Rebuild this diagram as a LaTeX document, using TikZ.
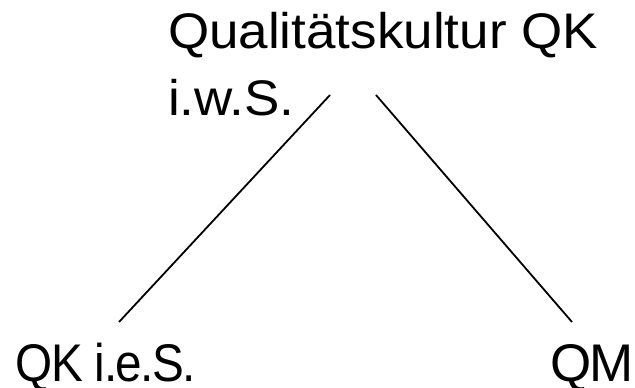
\documentclass[tikz,border=0pt]{standalone}
\usepackage{fontspec}
\setmainfont{Liberation Sans}
\begin{document}
\begin{tikzpicture}[x=1pt,y=-1pt,
  lbl/.style={inner sep=0pt,outer sep=0pt,anchor=base west},
  conn/.style={line width=1.8pt,black}]
\useasboundingbox (0,0) rectangle (635,388);
\node[lbl,align=left,font=\fontsize{50}{67}\selectfont\addfontfeatures{FakeStretch=1.06}] (top) at (168,115) {Qualitätskultur QK\\i.w.S.};
\node[lbl,font=\fontsize{53}{60}\selectfont\addfontfeatures{FakeStretch=0.9,LetterSpace=-3}] (left) at (16,381) {QK i.e.S.};
\node[lbl,font=\fontsize{53}{60}\selectfont\addfontfeatures{LetterSpace=-3}] (right) at (550,381) {QM};
\coordinate (tl) at (330,95);
\coordinate (tr) at (376,95);
\coordinate (bl) at (119,322);
\coordinate (br) at (572,322);
\draw[conn] (tl) -- (bl);
\draw[conn] (tr) -- (br);
\end{tikzpicture}
\end{document}
